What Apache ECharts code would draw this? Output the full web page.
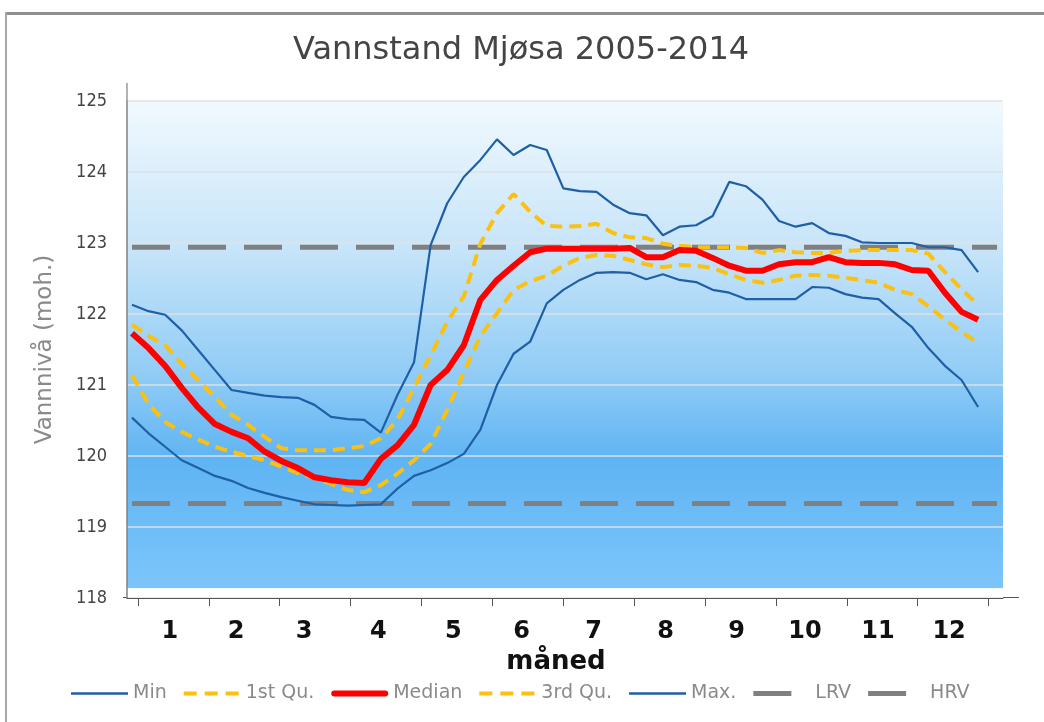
<!DOCTYPE html>
<html>
<head>
<meta charset="utf-8">
<script src="https://cdn.jsdelivr.net/npm/echarts@6/dist/echarts.min.js"></script>
<style>
html,body{margin:0;padding:0;background:#fff;}
#chart{width:1044px;height:722px;}
</style>
</head>
<body>
<div id="chart"></div>
<script>
// ---- data (x = week of year) ----
const weeks = [1,2,3,4,5,6,7,8,9,10,11,12,13,14,15,16,17,18,19,20,21,22,23,24,25,26,
               27,28,29,30,31,32,33,34,35,36,37,38,39,40,41,42,43,44,45,46,47,48,49,50,51,52];

const minLevel = [120.54,120.32,120.13,119.94,119.83,119.72,119.65,119.55,119.48,119.42,119.37,119.32,119.31,
                  119.30,119.31,119.32,119.54,119.72,119.80,119.90,120.03,120.37,121.00,121.44,121.61,122.15,
                  122.34,122.48,122.58,122.59,122.58,122.49,122.56,122.48,122.45,122.34,122.30,122.21,122.21,
                  122.21,122.21,122.38,122.37,122.28,122.23,122.21,122.01,121.82,121.52,121.27,121.07,120.69];

const q1Level = [121.14,120.73,120.48,120.34,120.23,120.13,120.06,120.00,119.94,119.85,119.76,119.69,119.61,
                 119.52,119.49,119.59,119.75,119.94,120.17,120.65,121.18,121.69,122.01,122.34,122.46,122.54,
                 122.68,122.79,122.83,122.82,122.76,122.70,122.66,122.69,122.68,122.65,122.56,122.48,122.44,
                 122.48,122.54,122.55,122.54,122.51,122.48,122.44,122.34,122.28,122.11,121.92,121.75,121.59];

const medianLevel = [121.73,121.52,121.27,120.96,120.68,120.45,120.34,120.25,120.06,119.93,119.83,119.70,119.66,
                     119.63,119.62,119.96,120.15,120.44,121.00,121.21,121.56,122.20,122.48,122.68,122.87,122.92,
                     122.92,122.92,122.92,122.92,122.93,122.80,122.80,122.90,122.89,122.79,122.68,122.61,122.61,
                     122.70,122.73,122.73,122.80,122.73,122.72,122.72,122.70,122.62,122.61,122.30,122.03,121.92];

const q3Level = [121.85,121.69,121.56,121.30,121.07,120.83,120.58,120.44,120.27,120.11,120.08,120.08,120.08,
                 120.11,120.14,120.25,120.51,120.96,121.42,121.89,122.25,122.99,123.42,123.69,123.44,123.24,
                 123.23,123.24,123.27,123.14,123.08,123.07,122.99,122.96,122.94,122.94,122.94,122.93,122.86,
                 122.90,122.87,122.86,122.86,122.89,122.90,122.90,122.90,122.90,122.85,122.59,122.35,122.13];

const maxLevel = [122.13,122.04,121.99,121.77,121.49,121.21,120.93,120.89,120.85,120.83,120.82,120.72,120.55,
                  120.52,120.51,120.33,120.86,121.32,122.97,123.56,123.93,124.17,124.46,124.24,124.38,124.31,
                  123.77,123.73,123.72,123.54,123.42,123.39,123.11,123.23,123.25,123.38,123.86,123.80,123.61,
                  123.31,123.23,123.28,123.14,123.10,123.01,123.00,123.00,123.00,122.94,122.94,122.90,122.59];

const LRV = 119.33;
const HRV = 122.94;
const refSpan = [1, 53.14];            // week range covered by the LRV / HRV lines

// month boundaries (ticks) and month label positions, in week units
const monthTicks = [1.36,5.63,9.90,14.18,18.45,22.72,27.00,31.27,35.54,39.81,44.09,48.36,52.63];
const monthLabelPos = [3.29,7.28,11.38,15.85,20.37,24.48,28.82,33.17,37.45,41.56,45.97,50.25];
const monthLabels = ['1','2','3','4','5','6','7','8','9','10','11','12'];
const yTicks = [118,119,120,121,122,123,124,125];

const seriesNames = ['Min','1st Qu.','Median','3rd Qu.','Max.','LRV','HRV'];

// ---- chart ----
const chart = echarts.init(document.getElementById('chart'));
const toPairs = arr => weeks.map((w, i) => [w, arr[i]]);
const refPairs = v => refSpan.map(w => [w, v]);

const blue = '#1f5fa6', gold = '#fcc010', red = '#ff0000', grey = '#808080';

// legend icons (57 x 14 box; tiny corner squares fix the bounding box)
const box = 'M0,0h0.01v0.01h-0.01z M56.99,13.99h0.01v0.01h-0.01z ';
const iconSolidThin = 'path://' + box + 'M0,5.8h57v2.4h-57z';
const iconDashed = 'path://' + box + 'M0,5h13v4h-13z M21,5h13v4h-13z M42,5h13v4h-13z';
const iconThick = 'path://' + box + 'M3,4h51a3,3 0 0 1 0,6h-51a3,3 0 0 1 0,-6z';
const iconShortGrey = 'path://' + box + 'M0,4.5h38v5h-38z';
const legendIcons = {
  'Min': [iconSolidThin, blue], '1st Qu.': [iconDashed, gold], 'Median': [iconThick, red],
  '3rd Qu.': [iconDashed, gold], 'Max.': [iconSolidThin, blue], 'LRV': [iconShortGrey, grey], 'HRV': [iconShortGrey, grey]
};

chart.setOption({
  animation: false,
  backgroundColor: '#ffffff',
  title: {
    text: 'Vannstand Mjøsa 2005-2014',
    left: 288, top: 30,
    textStyle: { fontFamily: 'DejaVu Sans', fontSize: 32, fontWeight: 'normal', color: '#444' }
  },
  legend: {
    data: seriesNames.map(n => ({
      name: n, icon: legendIcons[n][0],
      itemStyle: { color: legendIcons[n][1], borderWidth: 0 }
    })),
    left: 66, top: 679,
    itemWidth: 57, itemHeight: 14, itemGap: 17,
    textStyle: { fontFamily: 'DejaVu Sans', fontSize: 19, color: '#8a8a8a' }
  },
  grid: {
    left: 127, right: 41, top: 101, bottom: 124,
    show: true, borderWidth: 0,
    backgroundColor: new echarts.graphic.LinearGradient(0, 0, 0, 1, [
      { offset: 0, color: '#f1f9fe' },
      { offset: 0.3, color: '#c6e4f9' },
      { offset: 0.55, color: '#91ccf6' },
      { offset: 0.72, color: '#5fb4f3' },
      { offset: 0.979, color: '#7cc5fb' },
      { offset: 0.981, color: '#ffffff' },
      { offset: 1, color: '#ffffff' }
    ])
  },
  xAxis: {
    type: 'value', min: 0.70, max: 53.5,
    axisLine: { show: true, lineStyle: { color: '#555', width: 1 } },
    axisTick: { show: true, customValues: monthTicks, length: 8, lineStyle: { color: '#555' } },
    axisLabel: {
      customValues: monthLabelPos,
      formatter: v => monthLabels[monthLabelPos.indexOf(v)],
      margin: 22, fontFamily: 'DejaVu Sans', fontWeight: 'bold', fontSize: 24, color: '#111'
    },
    splitLine: { show: false },
    name: 'måned', nameLocation: 'middle', nameGap: 50,
    nameTextStyle: { fontFamily: 'DejaVu Sans', fontWeight: 'bold', fontSize: 26, color: '#111', padding: [0, 18, 0, 0] }
  },
  yAxis: {
    type: 'value', min: yTicks[0], max: yTicks[yTicks.length - 1], interval: 1,
    axisLine: { show: true, lineStyle: { color: '#808080', width: 1.5 } },
    axisTick: { show: false },
    axisLabel: { margin: 20, fontFamily: 'DejaVu Sans Condensed, DejaVu Sans', fontSize: 18, color: '#444' },
    splitLine: { show: true, lineStyle: { color: 'rgba(222,226,230,0.95)', width: 1.5 } },
    name: 'Vannnivå (moh.)', nameLocation: 'middle', nameGap: 70, nameRotate: 90,
    nameTextStyle: { fontFamily: 'DejaVu Sans', fontSize: 23, color: '#8a8a8a' }
  },
  graphic: [
    { type: 'rect', shape: { x: 5, y: 12, width: 1039, height: 3 }, style: { fill: '#8f8f8f' }, silent: true },
    { type: 'rect', shape: { x: 5, y: 12, width: 2, height: 710 }, style: { fill: '#a8a8a8' }, silent: true },
    { type: 'line', shape: { x1: 127, y1: 83, x2: 127, y2: 101 }, style: { stroke: '#9a9a9a', lineWidth: 1.5 }, silent: true },
    { type: 'line', shape: { x1: 1003, y1: 597.5, x2: 1019, y2: 597.5 }, style: { stroke: '#555', lineWidth: 1 }, silent: true },
    { type: 'line', shape: { x1: 123, y1: 597.5, x2: 127, y2: 597.5 }, style: { stroke: '#555', lineWidth: 1 }, silent: true }
  ],
  series: [
    { name: 'LRV', type: 'line', data: refPairs(LRV), symbol: 'none', z: 1,
      lineStyle: { color: grey, width: 5, type: [38, 18] }, itemStyle: { color: grey } },
    { name: 'HRV', type: 'line', data: refPairs(HRV), symbol: 'none', z: 1,
      lineStyle: { color: grey, width: 5, type: [38, 18] }, itemStyle: { color: grey } },
    { name: 'Min', type: 'line', data: toPairs(minLevel), symbol: 'none', z: 3,
      lineStyle: { color: blue, width: 2.2 }, itemStyle: { color: blue } },
    { name: 'Max.', type: 'line', data: toPairs(maxLevel), symbol: 'none', z: 3,
      lineStyle: { color: blue, width: 2.2 }, itemStyle: { color: blue } },
    { name: '1st Qu.', type: 'line', data: toPairs(q1Level), symbol: 'none', z: 4,
      lineStyle: { color: gold, width: 4, type: [12, 7] }, itemStyle: { color: gold } },
    { name: '3rd Qu.', type: 'line', data: toPairs(q3Level), symbol: 'none', z: 4,
      lineStyle: { color: gold, width: 4, type: [12, 7] }, itemStyle: { color: gold } },
    { name: 'Median', type: 'line', data: toPairs(medianLevel), symbol: 'none', z: 5,
      lineStyle: { color: red, width: 6 }, itemStyle: { color: red } }
  ]
});
</script>
</body>
</html>
